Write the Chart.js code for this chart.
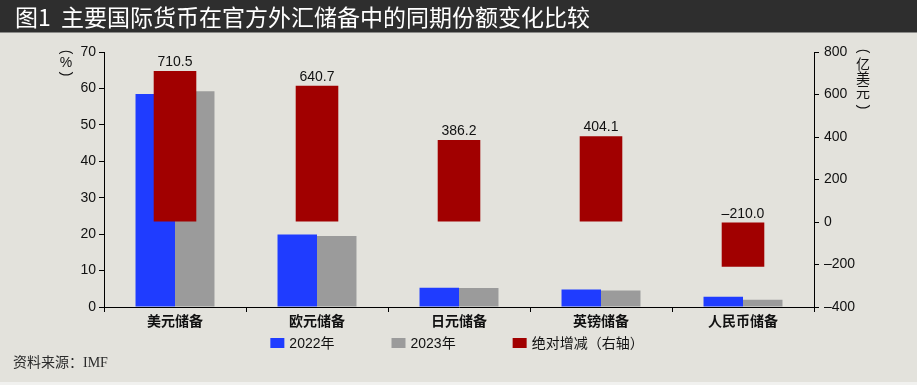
<!DOCTYPE html>
<html>
<head>
<meta charset="utf-8">
<script src="https://cdn.jsdelivr.net/npm/chart.js@4.4.1/dist/chart.umd.min.js"></script>
<style>
  html, body { margin: 0; padding: 0; background: #e3e2dc; }
  #wrap { width: 917px; height: 385px; position: relative; }
</style>
</head>
<body>
<div id="wrap"><canvas id="chart" width="917" height="385"></canvas></div>
<script>
// ---- data ----
const categories = ['美元储备', '欧元储备', '日元储备', '英镑储备', '人民币储备'];
const share2022 = [58.5, 19.9, 5.3, 4.8, 2.8];   // %, left axis
const share2023 = [59.2, 19.5, 5.2, 4.5, 2.0];   // %, left axis
const absChange = [710.5, 640.7, 386.2, 404.1, -210.0]; // 亿美元, right axis
const seriesLabels = ['2022年', '2023年', '绝对增减（右轴）'];
const leftRange = [0, 70, 10];
const rightRange = [-400, 800, 200];

const TITLE = '图1  主要国际货币在官方外汇储备中的同期份额变化比较';
const SOURCE = '资料来源：IMF';

// ---- styling ----
const BLUE = '#1f3cff';
const GRAY = '#9b9b9b';
const RED = '#a10000';
const INK = '#111111';
const SANS = '"Liberation Sans", "Noto Sans CJK SC", sans-serif';

// vertical axis caption, one glyph per row, brackets turned sideways
function drawVerticalCaption(ctx, chars, x, ys) {
  ctx.save();
  ctx.fillStyle = INK;
  ctx.font = '14px ' + SANS;
  ctx.textAlign = 'center';
  ctx.textBaseline = 'middle';
  chars.forEach((ch, i) => {
    if (ch === '(' || ch === ')') {
      ctx.save();
      ctx.translate(x, ys[i]);
      ctx.rotate(Math.PI / 2);
      ctx.fillText(ch, 0, 0);
      ctx.restore();
    } else {
      ctx.fillText(ch, x, ys[i]);
    }
  });
  ctx.restore();
}

const decorPlugin = {
  id: 'decor',
  beforeDraw(chart) {
    const { ctx, width, height } = chart;
    ctx.save();
    ctx.fillStyle = '#e3e2dc';
    ctx.fillRect(0, 0, width, height);
    ctx.fillStyle = '#f1f1ef';
    ctx.fillRect(0, height - 3, width, 3);
    // title bar
    ctx.fillStyle = '#2e2e2e';
    ctx.fillRect(0, 0, width, 32);
    ctx.fillStyle = '#8a8a88';
    ctx.fillRect(0, 32, width, 1);
    ctx.fillStyle = '#ffffff';
    ctx.font = '23px "Noto Sans CJK SC", sans-serif';
    ctx.textBaseline = 'middle';
    ctx.fillText(TITLE, 15, 17);
    ctx.restore();
  },
  afterDraw(chart) {
    const { ctx, chartArea } = chart;
    // axis captions
    drawVerticalCaption(ctx, ['(', '%', ')'], 66, [52, 63, 74]);
    drawVerticalCaption(ctx, ['(', '亿', '美', '元', ')'], 863, [51, 65, 79, 93, 107]);

    // source note
    ctx.save();
    ctx.fillStyle = '#2a2a2a';
    ctx.font = '14px "Liberation Serif", "Noto Sans CJK SC", serif';
    ctx.textBaseline = 'middle';
    ctx.fillText(SOURCE, 13, 363);
    ctx.restore();

    // legend
    ctx.save();
    ctx.font = '14px ' + SANS;
    ctx.textBaseline = 'middle';
    const boxW = 14, boxH = 10, gapText = 5, gapItem = 57;
    const ds = chart.data.datasets;
    const widths = ds.map(d => boxW + gapText + ctx.measureText(d.label).width);
    const total = widths.reduce((a, b) => a + b, 0) + gapItem * (ds.length - 1);
    let x = (chartArea.left + chartArea.right) / 2 - 2 - total / 2;
    const y = 343;
    ds.forEach((d, i) => {
      ctx.fillStyle = d.backgroundColor;
      ctx.fillRect(x, y - boxH / 2, boxW, boxH);
      ctx.fillStyle = INK;
      ctx.fillText(d.label, x + boxW + gapText, y + 1);
      x += widths[i] + gapItem;
    });
    ctx.restore();
  },
  afterDatasetsDraw(chart) {
    // value labels above the red bars
    const { ctx } = chart;
    const meta = chart.getDatasetMeta(2);
    ctx.save();
    ctx.fillStyle = INK;
    ctx.font = '14px ' + SANS;
    ctx.textAlign = 'center';
    ctx.textBaseline = 'alphabetic';
    meta.data.forEach((bar, i) => {
      const top = Math.min(bar.y, bar.base);
      const v = absChange[i];
      const txt = (v < 0 ? '–' : '') + Math.abs(v).toFixed(1);
      ctx.fillText(txt, bar.x, top - 5);
    });
    ctx.restore();
  }
};

const axisLine = { color: '#000000', width: 1 };

new Chart(document.getElementById('chart'), {
  type: 'bar',
  data: {
    labels: categories,
    datasets: [
      {
        label: seriesLabels[0], data: share2022, backgroundColor: BLUE,
        yAxisID: 'y', order: 1, categoryPercentage: 0.556, barPercentage: 1
      },
      {
        label: seriesLabels[1], data: share2023, backgroundColor: GRAY,
        yAxisID: 'y', order: 1, categoryPercentage: 0.556, barPercentage: 1
      },
      {
        label: seriesLabels[2], data: absChange, backgroundColor: RED,
        yAxisID: 'y2', order: 0, grouped: false, categoryPercentage: 0.3, barPercentage: 1
      }
    ]
  },
  options: {
    responsive: false,
    animation: false,
    devicePixelRatio: 1,
    layout: { padding: { top: 52, bottom: 48, left: 0, right: 0 } },
    plugins: {
      legend: { display: false },
      tooltip: { enabled: false }
    },
    scales: {
      x: {
        offset: true,
        grid: { drawOnChartArea: false, drawTicks: true, tickLength: 5, color: '#000', offset: true },
        border: axisLine,
        ticks: { color: INK, padding: 2, font: { family: SANS, size: 14, weight: 'bold' } },
        afterFit(s) { s.height = 30; }
      },
      y: {
        position: 'left',
        min: leftRange[0], max: leftRange[1],
        grid: { drawOnChartArea: false, tickLength: 5, color: '#000' },
        border: axisLine,
        ticks: { stepSize: leftRange[2], color: INK, padding: 3, font: { family: SANS, size: 14 } },
        afterFit(s) { s.width = 104; }
      },
      y2: {
        position: 'right',
        min: rightRange[0], max: rightRange[1],
        grid: { drawOnChartArea: false, tickLength: 5, color: '#000' },
        border: axisLine,
        ticks: {
          stepSize: rightRange[2], color: INK, padding: 5, font: { family: SANS, size: 14 },
          callback: v => String(v).replace('-', '–')
        },
        afterFit(s) { s.width = 103; }
      }
    }
  },
  plugins: [decorPlugin]
});
</script>
</body>
</html>
